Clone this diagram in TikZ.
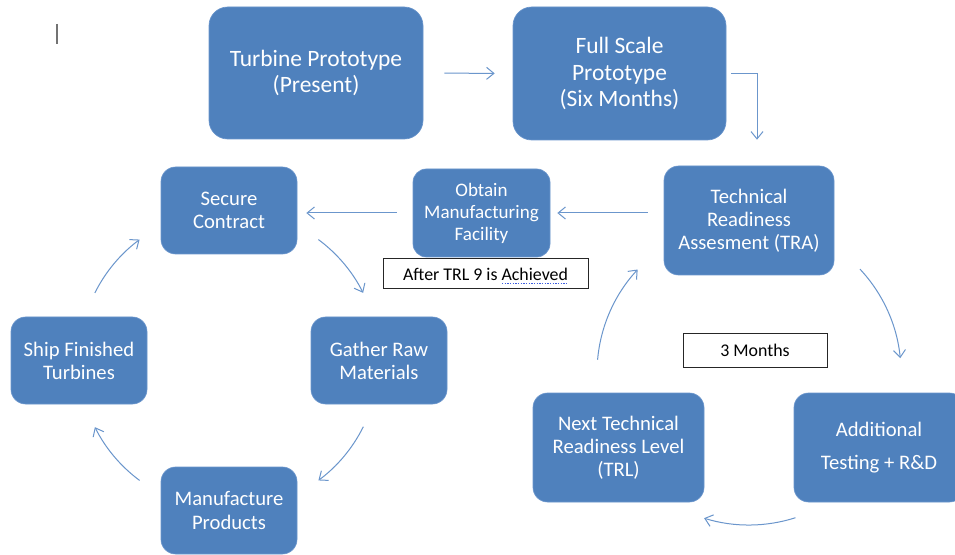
\documentclass[tikz,border=0pt]{standalone}
\usepackage{fontspec}
\setmainfont{Carlito}
\usetikzlibrary{arrows.meta}

\definecolor{boxfill}{HTML}{4F81BD}
\definecolor{boxedge}{HTML}{6A95CC}
\definecolor{linkblue}{HTML}{6B96CC}
\definecolor{spellblue}{HTML}{3F5FE0}

\tikzset{
  stage/.style={draw=boxedge, line width=0.5pt, fill=boxfill, text=white,
    align=center, inner sep=0pt},
  bigstage/.style={stage, rounded corners=14pt,
    font=\fontsize{17.6}{20}\selectfont},
  midstage/.style={stage, rounded corners=11pt,
    font=\fontsize{15.5}{17.3}\selectfont},
  smallstage/.style={stage, rounded corners=10pt,
    font=\fontsize{14.3}{16.5}\selectfont},
  note/.style={draw=black!85, line width=0.75pt, fill=white, text=black,
    inner sep=0pt, font=\fontsize{13.4}{15}\selectfont},
  flow/.style={draw=linkblue, line width=0.75pt,
    -{Straight Barb[length=5.5pt,width=9pt]}},
  spell/.style={draw=spellblue, line width=0.6pt, dash pattern=on 1pt off 1pt},
}

\begin{document}
\begin{tikzpicture}[x=0.75pt, y=-0.75pt]
  \useasboundingbox (0,0) rectangle (955,555);
  \fill[white] (0,0) rectangle (955,555);

  % text cursor mark
  \draw[black!55, line width=1pt] (57,24) -- (57,44);

  % prototype stages
  \node[bigstage, minimum width=160.5pt, minimum height=99pt] (tp) at (316,73)
    {Turbine Prototype\\(Present)};
  \node[bigstage, minimum width=159.75pt, minimum height=99.75pt] (fs) at (619.5,73.5)
    {Full Scale\\Prototype\\(Six Months)};

  % readiness loop
  \node[midstage, minimum width=127.5pt, minimum height=81.75pt] (tra) at (749,220.5)
    {Technical\\Readiness\\Assesment (TRA)};
  \node[midstage, minimum width=127.5pt, minimum height=81.75pt] (add) at (879,447.5)
    {Additional\\[7pt]Testing + R\&D};
  \node[midstage, minimum width=128.25pt, minimum height=81.75pt] (ntrl) at (618.5,447.5)
    {Next Technical\\Readiness Level\\(TRL)};

  % manufacturing loop
  \node[smallstage, minimum width=102.75pt, minimum height=66pt] (obt) at (481.5,213)
    {Obtain\\Manufacturing\\Facility};
  \node[midstage, minimum width=102pt, minimum height=65.25pt] (sc) at (229,210.5)
    {Secure\\Contract};
  \node[midstage, minimum width=102pt, minimum height=65.25pt] (ship) at (79,360.5)
    {Ship Finished\\Turbines};
  \node[midstage, minimum width=102pt, minimum height=65.25pt] (gather) at (379,360.5)
    {Gather Raw\\Materials};
  \node[midstage, minimum width=102pt, minimum height=65.25pt] (manu) at (229,510.5)
    {Manufacture\\Products};

  % notes
  \node[note, minimum width=153.75pt, minimum height=22.5pt] (trl9) at (485.5,274)
    {After TRL 9 is Achieved};
  \draw[spell] ([xshift=12.4pt, yshift=-6.9pt]trl9.center) -- ++(66,0);
  \node[note, minimum width=108pt, minimum height=24.75pt] (months) at (755,350.5)
    {3 Months};

  % centres of the two cycles
  \coordinate (lc) at (229,360);
  \coordinate (rc) at (749,373);

  % straight connectors
  \draw[flow, shorten <=15.75pt, shorten >=13.5pt] (tp.east) -- (fs.east -| fs.west);
  \draw[flow] ([xshift=3.75pt]fs.east) -| ([xshift=6pt, yshift=19.5pt]tra.north);
  \draw[flow, shorten <=12pt, shorten >=5.25pt] (tra.west |- obt.east) -- (obt.east);
  \draw[flow, shorten <=12pt, shorten >=6.75pt] (obt.west) -- (obt.west -| sc.east);

  % manufacturing cycle arcs
  \draw[flow] ([shift={(53.4:112.5pt)}]lc) arc[start angle=53.4, end angle=26.6, radius=112.5pt];
  \draw[flow] ([shift={(-26.4:112.5pt)}]lc) arc[start angle=-26.4, end angle=-53.4, radius=112.5pt];
  \draw[flow] ([shift={(-126.6:112.5pt)}]lc) arc[start angle=-126.6, end angle=-153.4, radius=112.5pt];
  \draw[flow] ([shift={(153.4:112.5pt)}]lc) arc[start angle=153.4, end angle=126.6, radius=112.5pt];

  % readiness cycle arcs
  \draw[flow] ([shift={(43.1:114pt)}]rc) arc[start angle=43.1, end angle=5.6, radius=114pt];
  \draw[flow] ([shift={(-72.2:114pt)}]rc) arc[start angle=-72.2, end angle=-107.2, radius=114pt];
  \draw[flow] ([shift={(175:114pt)}]rc) arc[start angle=175, end angle=137.1, radius=114pt];
\end{tikzpicture}
\end{document}
